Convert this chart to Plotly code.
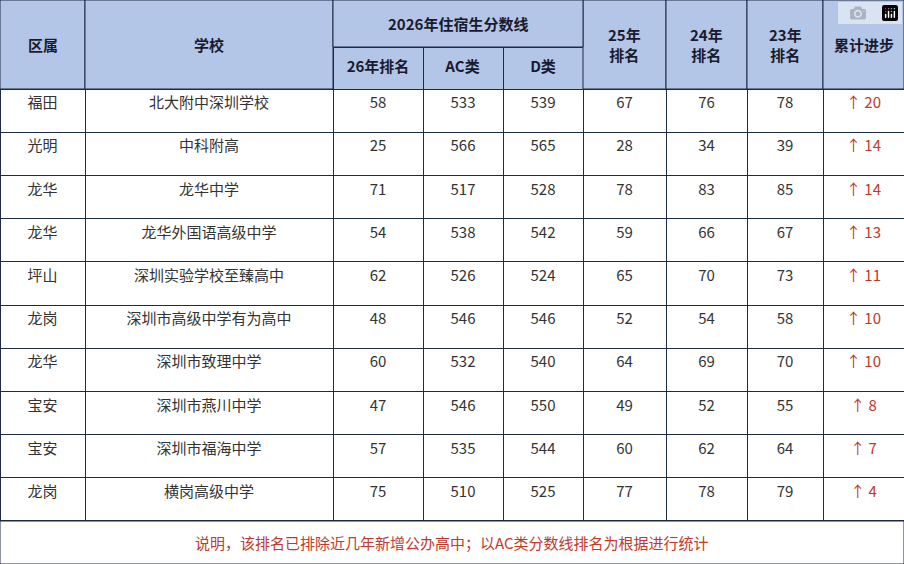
import plotly.graph_objects as go

W, H = 904, 564

districts = ["福田", "光明", "龙华", "龙华", "坪山", "龙岗", "龙华", "宝安", "宝安", "龙岗"]
schools = ["北大附中深圳学校", "中科附高", "龙华中学", "龙华外国语高级中学", "深圳实验学校至臻高中",
           "深圳市高级中学有为高中", "深圳市致理中学", "深圳市燕川中学", "深圳市福海中学", "横岗高级中学"]
rank26 = [58, 25, 71, 54, 62, 48, 60, 47, 57, 75]
score_ac = [533, 566, 517, 538, 526, 546, 532, 546, 535, 510]
score_d = [539, 565, 528, 542, 524, 546, 540, 550, 544, 525]
rank25 = [67, 28, 78, 59, 65, 52, 64, 49, 60, 77]
rank24 = [76, 34, 83, 66, 70, 54, 69, 52, 62, 78]
rank23 = [78, 39, 85, 67, 73, 58, 70, 55, 64, 79]
progress = [20, 14, 14, 13, 11, 10, 10, 8, 7, 4]
note = "说明，该排名已排除近几年新增公办高中；以AC类分数线排名为根据进行统计"

col_edges = [0, 85, 333, 423, 503, 583, 666, 747, 823, 904]
widths = [col_edges[i + 1] - col_edges[i] for i in range(9)]
top_h, head_h, row_h, foot_y = 47, 89, 43.2, 521

hdr_fill = "#b4c6e7"
line_c = "#1f2a44"
font = "Noto Sans CJK SC, Arial, sans-serif"

def py(p):
    return 1 - p / H

def px(p):
    return p / W

fig = go.Figure(go.Table(
    domain=dict(x=[0, 1], y=[0, py(top_h)]),
    columnwidth=widths,
    header=dict(values=["", "", "<b>26年排名</b>", "<b>AC类</b>", "<b>D类</b>", "", "", "", ""],
                fill_color=hdr_fill, line=dict(color=line_c, width=1), height=head_h - top_h,
                font=dict(family=font, size=15, color="#1a1a2e"), align="center"),
    cells=dict(values=[districts, schools, rank26, score_ac, score_d, rank25, rank24, rank23,
                       ["↑ %d" % p for p in progress]],
               fill_color="white", line=dict(color=line_c, width=1), height=row_h,
               font=dict(family=font, size=15, color=["#333"] * 8 + ["#c0392b"]), align="center"),
))

shapes = []
annotations = []

def box(x0, y0, x1, y1, fill):
    shapes.append(dict(type="rect", xref="paper", yref="paper", x0=px(x0), x1=px(x1),
                       y0=py(y1), y1=py(y0), fillcolor=fill, line=dict(color=line_c, width=1),
                       layer="above"))

def label(text, x, y, color="#1a1a2e", size=15):
    annotations.append(dict(text=text, x=px(x), y=py(y), xref="paper", yref="paper",
                            xanchor="center", yanchor="middle", align="center",
                            showarrow=False, font=dict(family=font, size=size, color=color)))

merged = {0: "<b>区属</b>", 1: "<b>学校</b>", 5: "<b>25年<br>排名</b>", 6: "<b>24年<br>排名</b>",
          7: "<b>23年<br>排名</b>", 8: "<b>累计进步</b>"}
for i, t in merged.items():
    box(col_edges[i], 0, col_edges[i + 1], head_h, hdr_fill)
    label(t, (col_edges[i] + col_edges[i + 1]) / 2, head_h / 2)
box(col_edges[2], 0, col_edges[5], top_h, hdr_fill)
label("<b>2026年住宿生分数线</b>", (col_edges[2] + col_edges[5]) / 2, top_h / 2)

box(0, foot_y, W, H, "white")
label(note, W / 2, (foot_y + H) / 2, color="#c0392b", size=15)

fig.update_layout(width=W, height=H, margin=dict(l=0, r=0, t=0, b=0),
                  paper_bgcolor="white", shapes=shapes, annotations=annotations)
fig.write_html("out.html", post_script="document.body.style.margin='0';")
